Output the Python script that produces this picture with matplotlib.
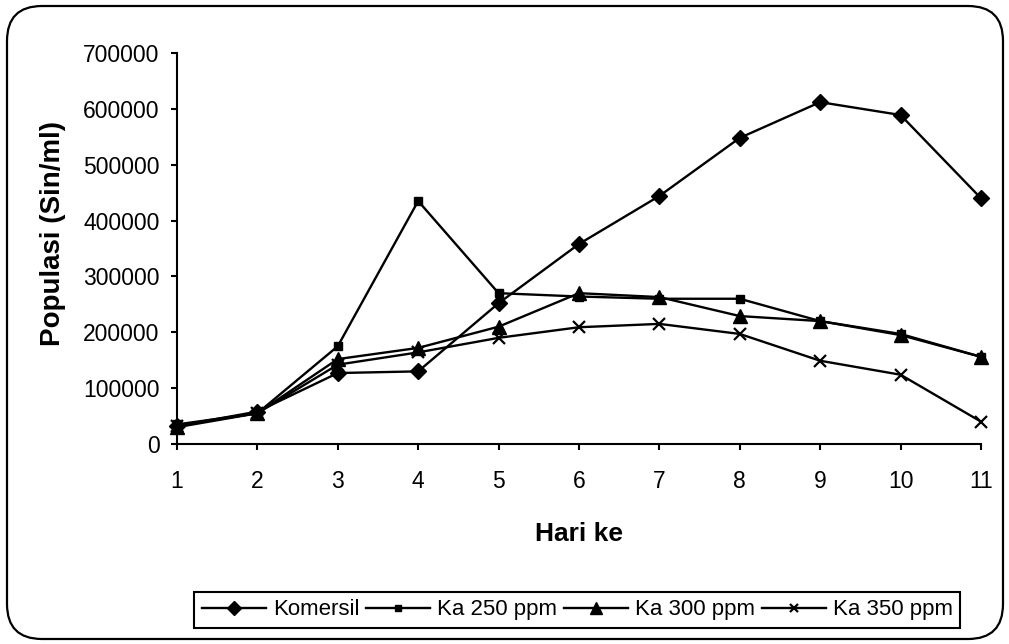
import matplotlib
matplotlib.use("Agg")
from matplotlib import pyplot as plt
from matplotlib import ticker
from matplotlib.patches import FancyBboxPatch

plt.rcParams["font.family"] = ["Liberation Sans", "DejaVu Sans"]

hari = [1, 2, 3, 4, 5, 6, 7, 8, 9, 10, 11]
komersil = [32000, 58000, 127000, 130000, 252000, 358000, 444000, 548000, 612000, 589000, 440000]
ka250 = [35000, 55000, 175000, 435000, 270000, 264000, 260000, 260000, 220000, 197000, 156000]
ka300 = [30000, 55000, 152000, 172000, 210000, 270000, 263000, 229000, 220000, 195000, 156000]
ka350 = [33000, 55000, 142000, 164000, 190000, 209000, 215000, 197000, 149000, 124000, 40000]
labels = ["Komersil", "Ka 250 ppm", "Ka 300 ppm", "Ka 350 ppm"]

fig = plt.figure(figsize=(10.09, 6.44), dpi=100)

# rounded border round the whole chart
border = FancyBboxPatch((0.07, 0.05), 9.96, 6.33, boxstyle="round,pad=0,rounding_size=0.35",
                        transform=fig.dpi_scale_trans, fill=False, edgecolor="black", linewidth=1.6)
fig.patches.append(border)

ax = fig.add_axes([0.1754, 0.3106, 0.7968, 0.6071])

ax.plot(hari, komersil, color="black", lw=1.7, marker="D", ms=8, clip_on=False, label=labels[0])
ax.plot(hari, ka250, color="black", lw=1.7, marker="s", ms=6, clip_on=False, label=labels[1])
ax.plot(hari, ka300, color="black", lw=1.7, marker="^", ms=10.5, clip_on=False, label=labels[2])
ax.plot(hari, ka350, color="black", lw=1.7, marker="x", ms=9, mew=1.6, clip_on=False, label=labels[3])

ax.set_xlim(1, 11)
ax.set_ylim(0, 700000)
ax.set_xticks(hari)
ax.set_yticks(range(0, 700001, 100000))
ax.yaxis.set_major_formatter(ticker.FormatStrFormatter("%d"))
for s in ["top", "right"]:
    ax.spines[s].set_visible(False)
for s in ["left", "bottom"]:
    ax.spines[s].set_linewidth(1.5)
ax.tick_params(axis="both", direction="out", length=4.5, width=1.5, labelsize=16.5)
ax.tick_params(axis="y", pad=8)
ax.tick_params(axis="x", pad=14)

fig.text(579 / 1009, 1 - 541 / 644, "Hari ke", ha="center", va="baseline",
         fontsize=19, fontweight="bold")
fig.text(53 / 1009, 1 - 233 / 644, "Populasi (Sin/ml)", ha="center", va="center",
         rotation=90, fontsize=20, fontweight="bold")

leg = fig.legend(loc="center", bbox_to_anchor=(0.572, 0.053), ncol=4, fontsize=16,
                 frameon=True, fancybox=False, edgecolor="black", framealpha=1,
                 handlelength=2.9, handletextpad=0.3, columnspacing=0.3,
                 borderpad=0.35, borderaxespad=0)
leg.get_frame().set_linewidth(1.5)
for h, m in zip(leg.legend_handles, [7, 4, 8, 6]):
    h.set_markersize(m)

fig.savefig("out.png", dpi=100)
